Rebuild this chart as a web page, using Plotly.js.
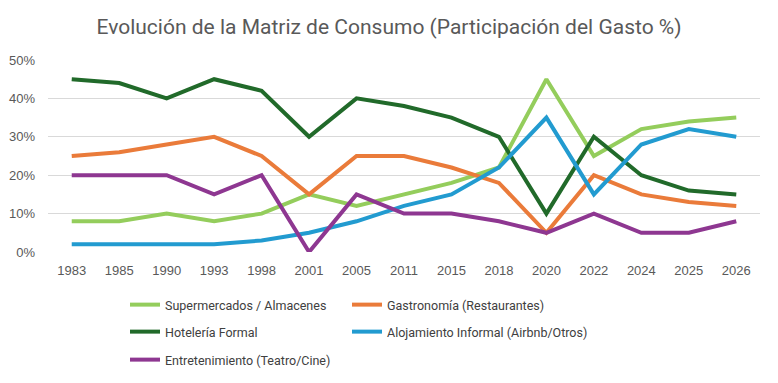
<!DOCTYPE html>
<html>
<head>
<meta charset="utf-8">
<script src="https://cdn.plot.ly/plotly-3.0.1.min.js"></script>
<style>html,body{margin:0;padding:0;background:#fff;}#chart{width:778px;height:383px;}</style>
</head>
<body>
<div id="chart"></div>
<script>
const years = ["1983","1985","1990","1993","1998","2001","2005","2011","2015","2018","2020","2022","2024","2025","2026"];
const supermercados = [8,8,10,8,10,15,12,15,18,22,45,25,32,34,35];
const gastronomia = [25,26,28,30,25,15,25,25,22,18,5,20,15,13,12];
const hoteleria = [45,44,40,45,42,30,40,38,35,30,10,30,20,16,15];
const alojamiento = [2,2,2,2,3,5,8,12,15,22,35,15,28,32,30];
const entretenimiento = [20,20,20,15,20,0,15,10,10,8,5,10,5,5,8];

const seriesNames = ["Supermercados / Almacenes","Gastronomía (Restaurantes)","Hotelería Formal","Alojamiento Informal (Airbnb/Otros)","Entretenimiento (Teatro/Cine)"];
const seriesData = [supermercados, gastronomia, hoteleria, alojamiento, entretenimiento];
const colors = ["#94CD5C","#EA7B3A","#216A2A","#229BD0","#8E3791"];
const legendIds = ["legend","legend2","legend3","legend4","legend5"];

const traces = seriesData.map((d,i)=>({
  x: years, y: d.map(v=>v/100), name: seriesNames[i], type:'scatter', mode:'lines',
  line:{color:colors[i], width:4}, legend: legendIds[i]
}));

const legendFont = {family:"Roboto, sans-serif", size:12.5, color:'#404040'};
function mkLegend(x, y){
  return {orientation:'v', xref:'container', yref:'container', x:x, xanchor:'left', y:y, yanchor:'middle',
    font:legendFont, itemwidth:30, bgcolor:'rgba(0,0,0,0)'};
}
const col1 = 125/778, col2 = 347/778;
const row1 = 1-305/383, row2 = 1-332/383, row3 = 1-360/383;

const layout = {
  width:778, height:383,
  margin:{l:48, r:18, t:60, b:131, autoexpand:false},
  paper_bgcolor:'#fff', plot_bgcolor:'#fff',
  title:{text:"Evolución de la Matriz de Consumo (Participación del Gasto %)", x:0.5, xanchor:'center', y:0.93, yanchor:'middle',
    font:{family:"Roboto, 'Open Sans', sans-serif", size:21, color:'#595959'}},
  font:{family:"'Liberation Sans', Arial, sans-serif", color:'#595959', size:13},
  xaxis:{type:'category', range:[-0.5,14.5], showgrid:false, zeroline:false, showline:false, ticks:'',
    tickfont:{size:13, color:'#595959'}, ticklabelstandoff:9, fixedrange:true},
  yaxis:{range:[0,0.5], dtick:0.1, tickformat:'.0%', showgrid:true, gridcolor:'#D9D9D9', gridwidth:1,
    zeroline:false, showline:false, ticks:'', tickfont:{size:13, color:'#595959'}, ticklabelstandoff:12, fixedrange:true},
  showlegend:true,
  legend: mkLegend(col1, row1),
  legend2: mkLegend(col2, row1),
  legend3: mkLegend(col1, row2),
  legend4: mkLegend(col2, row2),
  legend5: mkLegend(col1, row3),
};
Plotly.newPlot('chart', traces, layout, {displayModeBar:false, staticPlot:true});
</script>
</body>
</html>
